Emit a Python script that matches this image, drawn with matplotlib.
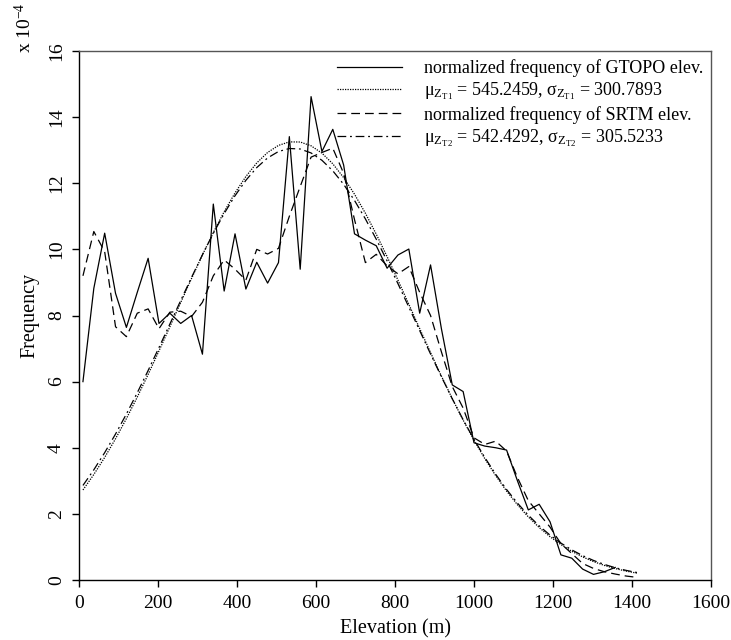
import numpy as np
import matplotlib
matplotlib.use("Agg")
import matplotlib.pyplot as plt

plt.rcParams['font.family'] = ['Liberation Serif', 'DejaVu Serif']
plt.rcParams['mathtext.fontset'] = 'custom'
plt.rcParams['mathtext.rm'] = 'Liberation Serif'
plt.rcParams['mathtext.it'] = 'Liberation Serif:italic'

# Bin centres (m)
elev = [10, 37.5, 65, 92.5, 120, 147.5, 175, 202.5, 230, 257.5,
        285, 312.5, 340, 367.5, 395, 422.5, 450, 477.5, 505, 532.5,
        560, 587.5, 615, 642.5, 670, 697.5, 725, 752.5, 780, 807.5,
        835, 862.5, 890, 917.5, 945, 972.5, 1000, 1027.5, 1055, 1082.5,
        1110, 1137.5, 1165, 1192.5, 1220, 1247.5, 1275, 1302.5, 1330, 1357.5,
        1385, 1412.5]

# normalized frequency (x 10^-4)
gtopo = [6.0, 8.82, 10.49, 8.67, 7.64, 8.70, 9.73, 7.76, 8.07, 7.76,
         8.00, 6.83, 11.37, 8.74, 10.47, 8.80, 9.61, 8.98, 9.60, 13.41,
         9.40, 14.62, 12.96, 13.63, 12.55, 10.47, 10.28, 10.11, 9.43, 9.83,
         10.01, 8.07, 9.53, 7.60, 5.90, 5.70, 4.15, 4.05, 4.00, 3.93,
         3.00, 2.12, 2.29, 1.76, 0.76, 0.66, 0.33, 0.17, 0.25, 0.38]

srtm = [9.20, 10.54, 9.93, 7.66, 7.36, 8.07, 8.20, 7.60, 8.10, 8.13,
        7.97, 8.40, 9.20, 9.68, 9.40, 9.07, 10.00, 9.86, 10.03, 11.00,
        11.90, 12.79, 12.93, 13.06, 12.30, 10.90, 9.60, 9.85, 9.50, 9.26,
        9.48, 8.70, 8.00, 6.90, 5.85, 5.20, 4.30, 4.10, 4.20, 3.90,
        3.10, 2.40, 2.00, 1.60, 1.10, 0.80, 0.50, 0.35, 0.25, 0.18,
        0.12, 0.08]

mu1, sd1 = 545.2459, 300.7893
mu2, sd2 = 542.4292, 305.5233

x = np.array(elev)
fit1 = 1e4 * np.exp(-0.5 * ((x - mu1) / sd1) ** 2) / (sd1 * np.sqrt(2 * np.pi))
fit2 = 1e4 * np.exp(-0.5 * ((x - mu2) / sd2) ** 2) / (sd2 * np.sqrt(2 * np.pi))

fig = plt.figure(figsize=(7.31, 6.40), dpi=100)
ax = fig.add_axes([79 / 731, 60 / 640, (711 - 79) / 731, (580 - 51) / 640])

lw = 0.9
ax.plot(x[:len(gtopo)], gtopo, color='black', lw=lw, ls='-',
        label='normalized frequency of GTOPO elev.')
ax.plot(x, fit1, color='black', lw=lw, ls=(0, (1, 1)),
        label=r'$\mathrm{\mu_{Z_{T1}}}$ = 545.2459, $\mathrm{\sigma_{Z_{T1}}}$ = 300.7893')
ax.plot(x, srtm, color='black', lw=lw, ls=(0, (7, 4)),
        label='normalized frequency of SRTM elev.')
ax.plot(x, fit2, color='black', lw=lw, ls=(0, (7, 3, 1.5, 3)),
        label=r'$\mathrm{\mu_{Z_{T2}}}$ = 542.4292, $\mathrm{\sigma_{Z_{T2}}}$ = 305.5233')

ax.set_xlim(0, 1600)
ax.set_ylim(0, 16)
ax.set_xticks(np.arange(0, 1601, 200))
ax.set_yticks(np.arange(0, 17, 2))
ax.tick_params(direction='out', length=5, width=1, labelsize=14)
ax.tick_params(axis='x', pad=6)
ax.tick_params(axis='y', labelrotation=90, pad=5)
for t in ax.get_yticklabels():
    t.set_va('center')

for s in ['left', 'bottom']:
    ax.spines[s].set_linewidth(1.0)
    ax.spines[s].set_color('black')
for s in ['top', 'right']:
    ax.spines[s].set_linewidth(1.0)
    ax.spines[s].set_color('#555555')

ax.set_xlabel('Elevation (m)', fontsize=14.5, labelpad=5)
ax.set_ylabel('Frequency', fontsize=14.5, labelpad=6)

fig.text(25 / 731, 1 - 28 / 640, r'x 10$^{-4}$', rotation=90, fontsize=14,
         ha='center', va='center')

leg = ax.legend(loc='upper right', bbox_to_anchor=(1.0, 1.0), frameon=False,
                fontsize=13, handlelength=3.6, handletextpad=1.2,
                labelspacing=0.2, borderaxespad=0.05)

fig.savefig('out.png', dpi=100)
